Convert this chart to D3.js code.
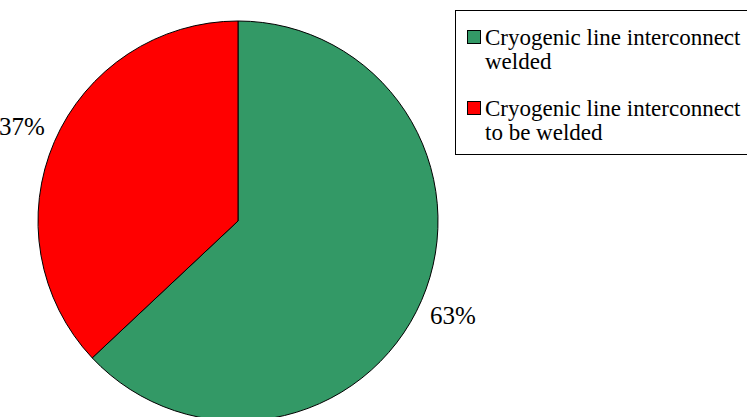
<!DOCTYPE html>
<html><head><meta charset="utf-8">
<script src="https://cdn.jsdelivr.net/npm/d3@7"></script>
<style>body{margin:0;background:#fff}svg{display:block}</style>
</head><body>
<svg id="c" width="747" height="417"></svg>
<script>
const categories = ["Cryogenic line interconnect welded", "Cryogenic line interconnect to be welded"];
const legendLines = [["Cryogenic line interconnect", "welded"], ["Cryogenic line interconnect", "to be welded"]];
const values = [63, 37];
const labels = ["63%", "37%"];
const colors = ["#339966", "#ff0000"];

const svg = d3.select("#c");
const font = '"Liberation Serif"';
const cx = 238, cy = 221, r = 200;
const pie = d3.pie().sort(null).value(d => d)(values);
const arc = d3.arc().innerRadius(0).outerRadius(r);
const g = svg.append("g").attr("transform", `translate(${cx},${cy})`);
g.selectAll("path").data(pie).enter().append("path")
  .attr("d", arc).attr("fill", (d, i) => colors[i])
  .attr("stroke", "#000").attr("stroke-width", 1);

const labelPos = [[453, 324], [22, 135]];
svg.selectAll("text.lbl").data(labels).enter().append("text")
  .attr("class", "lbl").attr("x", (d, i) => labelPos[i][0]).attr("y", (d, i) => labelPos[i][1])
  .attr("text-anchor", "middle").style("font-family", font).style("font-size", "25px")
  .text(d => d);

const lg = svg.append("g");
lg.append("rect").attr("x", 455.5).attr("y", 10.5).attr("width", 300).attr("height", 144)
  .attr("fill", "#fff").attr("stroke", "#000").attr("stroke-width", 1);
const items = lg.selectAll("g.it").data(categories).enter().append("g").attr("class", "it")
  .attr("transform", (d, i) => `translate(0,${i * 71})`);
items.append("rect").attr("x", 467.5).attr("y", 30.5).attr("width", 13).attr("height", 13)
  .attr("fill", (d, i) => colors[i]).attr("stroke", "#000").attr("stroke-width", 1);
items.each(function(d, i) {
  const t = d3.select(this).append("text").style("font-family", font).style("font-size", "23px");
  legendLines[i].forEach((ln, j) => t.append("tspan").attr("x", 485).attr("y", 45 + j * 24).text(ln));
});
</script>
</body></html>
